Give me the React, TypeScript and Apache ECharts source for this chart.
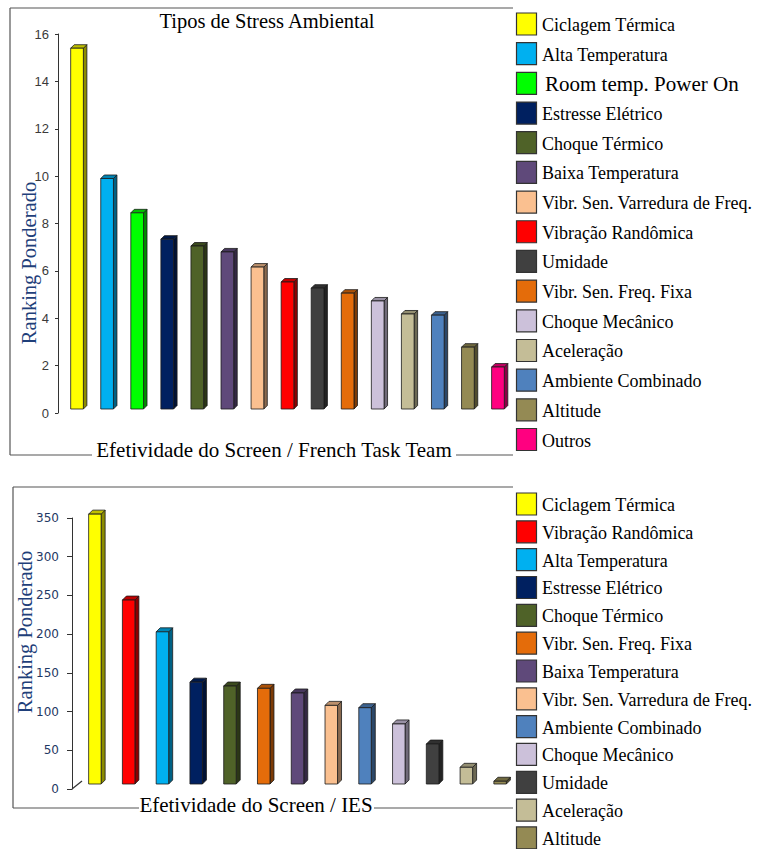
import React, { useEffect, useRef } from "react";
import * as echarts from "echarts";

const topCategories = [
  "Ciclagem Térmica",
  "Alta Temperatura",
  "Room temp. Power On",
  "Estresse Elétrico",
  "Choque Térmico",
  "Baixa Temperatura",
  "Vibr. Sen. Varredura de Freq.",
  "Vibração Randômica",
  "Umidade",
  "Vibr. Sen. Freq. Fixa",
  "Choque Mecânico",
  "Aceleração",
  "Ambiente Combinado",
  "Altitude",
  "Outros",
];
const topValues = [15.4, 9.9, 8.45, 7.34, 7.05, 6.8, 6.16, 5.53, 5.27, 5.06, 4.73, 4.18, 4.13, 2.78, 1.94];

const bottomCategories = [
  "Ciclagem Térmica",
  "Vibração Randômica",
  "Alta Temperatura",
  "Estresse Elétrico",
  "Choque Térmico",
  "Vibr. Sen. Freq. Fixa",
  "Baixa Temperatura",
  "Vibr. Sen. Varredura de Freq.",
  "Ambiente Combinado",
  "Choque Mecânico",
  "Umidade",
  "Aceleração",
  "Altitude",
];
const bottomValues = [355, 244, 203, 138, 133, 130, 124, 108, 105, 84, 58, 28, 10];

const topTicks = [0, 2, 4, 6, 8, 10, 12, 14, 16];
const bottomTicks = [0, 50, 100, 150, 200, 250, 300, 350];

const colorOf: Record<string, string> = {
  "Ciclagem Térmica": "#FFFF00",
  "Alta Temperatura": "#00B0F0",
  "Room temp. Power On": "#00FF00",
  "Estresse Elétrico": "#002060",
  "Choque Térmico": "#4F6228",
  "Baixa Temperatura": "#5F497A",
  "Vibr. Sen. Varredura de Freq.": "#FAC090",
  "Vibração Randômica": "#FF0000",
  "Umidade": "#404040",
  "Vibr. Sen. Freq. Fixa": "#E46C0A",
  "Choque Mecânico": "#CCC1DA",
  "Aceleração": "#C4BD97",
  "Ambiente Combinado": "#4F81BD",
  "Altitude": "#948A54",
  "Outros": "#FF0080",
};

function shade(hex: string, f: number): string {
  const n = parseInt(hex.slice(1), 16);
  const r = Math.round(((n >> 16) & 255) * f);
  const g = Math.round(((n >> 8) & 255) * f);
  const b = Math.round((n & 255) * f);
  return `rgb(${r},${g},${b})`;
}

function render3D(cats: string[], off: number, d: number, w: number) {
  return (params: any, api: any) => {
    const idx = api.value(0);
    const v = api.value(1);
    const top = api.coord([idx, v]);
    const zero = api.coord([idx, 0]);
    const x0 = top[0] - w / 2;
    const x1 = top[0] + w / 2;
    const yT = top[1];
    const yB = zero[1] - off;
    const c = colorOf[cats[params.dataIndex]];
    const stroke = "#1a1a1a";
    return {
      type: "group",
      children: [
        {
          type: "polygon",
          shape: { points: [[x1, yT], [x1 + d, yT - d], [x1 + d, yB - d], [x1, yB]] },
          style: { fill: shade(c, 0.55), stroke, lineWidth: 0.8 },
        },
        {
          type: "polygon",
          shape: { points: [[x0, yT], [x0 + d, yT - d], [x1 + d, yT - d], [x1, yT]] },
          style: { fill: shade(c, 0.75), stroke, lineWidth: 0.8 },
        },
        {
          type: "rect",
          shape: { x: x0, y: yT, width: w, height: Math.max(yB - yT, 0) },
          style: { fill: c, stroke, lineWidth: 0.8 },
        },
      ],
    };
  };
}

const serif = "Liberation Serif";

function legendItems(cats: string[], y0: number, step: number): any[] {
  const out: any[] = [];
  cats.forEach((name, i) => {
    const cy = y0 + i * step;
    out.push({
      type: "rect",
      shape: { x: 516.5, y: cy - 11, width: 20, height: 22 },
      style: { fill: colorOf[name], stroke: "#333", lineWidth: 1.2 },
    });
    const big = name === "Room temp. Power On";
    out.push({
      type: "text",
      x: big ? 545 : 542,
      y: cy + 1,
      style: {
        text: name,
        font: `${big ? 21 : 18}px "${serif}"`,
        fill: "#000",
        align: "left",
        verticalAlign: "middle",
      },
    });
  });
  return out;
}

function line(x1: number, y1: number, x2: number, y2: number, color = "#555"): any {
  return { type: "line", shape: { x1, y1, x2, y2 }, style: { stroke: color, lineWidth: 1.2 } };
}

export default function App() {
  const ref = useRef<HTMLDivElement>(null);
  useEffect(() => {
    if (!ref.current) return;
    const chart = echarts.init(ref.current, undefined, { renderer: "svg" });
    const option: any = {
      animation: false,
      backgroundColor: "#fff",
      grid: [
        { left: 62, right: 761 - 513, top: 34, bottom: 849 - 413 },
        { left: 78, right: 761 - 517, top: 518, bottom: 849 - 789 },
      ],
      xAxis: [
        {
          type: "category",
          gridIndex: 0,
          data: topCategories,
          axisLine: { show: false },
          axisTick: { show: false },
          axisLabel: { show: false },
        },
        {
          type: "category",
          gridIndex: 1,
          data: bottomCategories,
          axisLine: { show: false },
          axisTick: { show: false },
          axisLabel: { show: false },
        },
      ],
      yAxis: [
        {
          type: "value",
          gridIndex: 0,
          min: topTicks[0],
          max: topTicks[topTicks.length - 1],
          interval: 2,
          offset: 4,
          splitLine: { show: false },
          axisLine: { show: true, lineStyle: { color: "#333", width: 1 } },
          axisTick: { show: true, length: 3, lineStyle: { color: "#333" } },
          axisLabel: {
            color: "#3a3a3a",
            fontFamily: "Liberation Sans",
            fontSize: 13,
            margin: 9,
          },
        },
        {
          type: "value",
          gridIndex: 1,
          min: bottomTicks[0],
          max: bottomTicks[bottomTicks.length - 1],
          interval: 50,
          offset: 6,
          splitLine: { show: false },
          axisLine: { show: true, lineStyle: { color: "#333", width: 1 } },
          axisTick: { show: true, length: 5, lineStyle: { color: "#333" } },
          axisLabel: {
            color: "#1F3864",
            fontFamily: "DejaVu Sans",
            fontSize: 12,
            margin: 13,
          },
        },
      ],
      series: [
        {
          type: "custom",
          xAxisIndex: 0,
          yAxisIndex: 0,
          data: topValues.map((v, i) => [i, v]),
          encode: { x: 0, y: 1 },
          renderItem: render3D(topCategories, 4, 3.5, 12.7),
        },
        {
          type: "custom",
          xAxisIndex: 1,
          yAxisIndex: 1,
          data: bottomValues.map((v, i) => [i, v]),
          encode: { x: 0, y: 1 },
          renderItem: render3D(bottomCategories, 5, 4, 12.5),
        },
      ],
      graphic: [
        // top frame
        line(10, 8, 513, 8),
        line(10, 8, 10, 455),
        line(10, 455, 92, 455),
        line(456, 455, 513, 455),
        {
          type: "text",
          x: 267,
          y: 21,
          style: {
            text: "Tipos de Stress Ambiental",
            font: `20.5px "${serif}"`,
            fill: "#000",
            align: "center",
            verticalAlign: "middle",
          },
        },
        {
          type: "text",
          x: 274,
          y: 450,
          style: {
            text: "Efetividade do Screen / French Task Team",
            font: `21px "${serif}"`,
            fill: "#000",
            align: "center",
            verticalAlign: "middle",
          },
        },
        {
          type: "text",
          x: 29,
          y: 263,
          rotation: Math.PI / 2,
          style: {
            text: "Ranking Ponderado",
            font: `20.5px "${serif}"`,
            fill: "#1F3F7A",
            align: "center",
            verticalAlign: "middle",
          },
        },
        // bottom frame
        line(13, 487, 513, 487),
        line(13, 487, 13, 808),
        line(13, 808, 139, 808),
        line(374, 808, 513, 808),
        line(72, 789, 82, 781, "#333"),
        {
          type: "text",
          x: 256,
          y: 805,
          style: {
            text: "Efetividade do Screen / IES",
            font: `21px "${serif}"`,
            fill: "#000",
            align: "center",
            verticalAlign: "middle",
          },
        },
        {
          type: "text",
          x: 25,
          y: 632,
          rotation: Math.PI / 2,
          style: {
            text: "Ranking Ponderado",
            font: `20.5px "${serif}"`,
            fill: "#1F3F7A",
            align: "center",
            verticalAlign: "middle",
          },
        },
        ...legendItems(topCategories, 24, 29.68),
        ...legendItems(bottomCategories, 504, 27.83),
      ],
    };
    chart.setOption(option);
    return () => chart.dispose();
  }, []);
  return (
    <div
      ref={ref}
      style={{ position: "absolute", left: 0, top: 0, width: 761, height: 849 }}
    />
  );
}
